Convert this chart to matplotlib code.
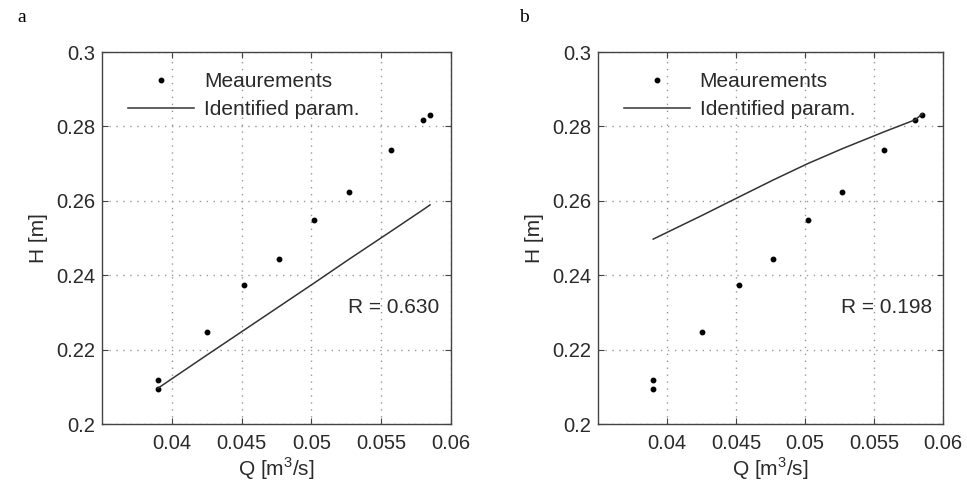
import matplotlib
matplotlib.use("Agg")
import matplotlib.pyplot as plt
import numpy as np

# Data
Q_meas = [0.0390, 0.0390, 0.0425, 0.0452, 0.0477, 0.0502, 0.0527, 0.0557, 0.0580, 0.0585]
H_meas = [0.2118, 0.2094, 0.2247, 0.2374, 0.2443, 0.2548, 0.2623, 0.2736, 0.2816, 0.2831]

Q_line = [0.0390, 0.0425, 0.0452, 0.0477, 0.0502, 0.0527, 0.0557, 0.0580, 0.0585]
H_line_a = [0.2096, 0.2185, 0.2253, 0.2316, 0.2379, 0.2443, 0.2518, 0.2576, 0.2589]
H_line_b = [0.2497, 0.2560, 0.2610, 0.2656, 0.2700, 0.2740, 0.2785, 0.2818, 0.2834]

R_values = ["0.630", "0.198"]
panel_labels = ["a", "b"]
x_ticks = [0.04, 0.045, 0.05, 0.055, 0.06]
x_ticklabels = ["0.04", "0.045", "0.05", "0.055", "0.06"]
y_ticks = [0.2, 0.22, 0.24, 0.26, 0.28, 0.3]
y_ticklabels = ["0.2", "0.22", "0.24", "0.26", "0.28", "0.3"]

plt.rcParams['font.family'] = ['Liberation Sans', 'DejaVu Sans']
plt.rcParams['mathtext.fontset'] = 'custom'
plt.rcParams['mathtext.rm'] = 'Liberation Sans'

W, H = 967, 487
fig = plt.figure(figsize=(W/100, H/100), dpi=100)

axes_px = [(102, 451), (598, 943)]
top, bottom = 52, 424
lines = [H_line_a, H_line_b]
panel_x = [17, 519]

txtcol = '#2a2a2a'
for i, (l, r) in enumerate(axes_px):
    ax = fig.add_axes([l/W, 1 - bottom/H, (r-l)/W, (bottom-top)/H])
    ax.plot(Q_meas, H_meas, linestyle='none', marker='o', markersize=3.2, color='black', label='Meaurements')
    ax.plot(Q_line, lines[i], color='#333333', linewidth=1.1, label='Identified param.')
    ax.set_xlim(0.035, 0.06)
    ax.set_ylim(0.2, 0.3)
    ax.set_xticks(x_ticks)
    ax.set_xticklabels(x_ticklabels)
    ax.set_yticks(y_ticks)
    ax.set_yticklabels(y_ticklabels)
    ax.grid(True, linestyle=(0, (1, 4)), color='#999999', linewidth=1.0)
    ax.tick_params(direction='in', length=4, top=True, right=True, labelsize=14.5,
                   colors='#444444', labelcolor=txtcol)
    ax.tick_params(axis='x', pad=7)
    ax.tick_params(axis='y', pad=5)
    for s in ax.spines.values():
        s.set_color('#444444')
        s.set_linewidth(1.0)
    ax.set_xlabel('Q [m$^3$/s]', fontsize=15, color=txtcol, labelpad=2)
    ax.set_ylabel('H [m]', fontsize=15, color=txtcol, labelpad=6)
    ax.text(0.0526, 0.2312, 'R = ' + R_values[i], fontsize=15, color=txtcol, va='center', ha='left')
    leg = ax.legend(loc='upper left', frameon=False, fontsize=15, handlelength=3.2,
                    handletextpad=0.45, borderaxespad=0.2, labelspacing=0.45,
                    bbox_to_anchor=(0.038, 0.98))
    for t in leg.get_texts():
        t.set_color(txtcol)
    fig.text(panel_x[i]/W, 1 - 18/H, panel_labels[i], fontsize=14, family='Liberation Serif',
             va='center', ha='left')

fig.savefig('out.png', dpi=100)
